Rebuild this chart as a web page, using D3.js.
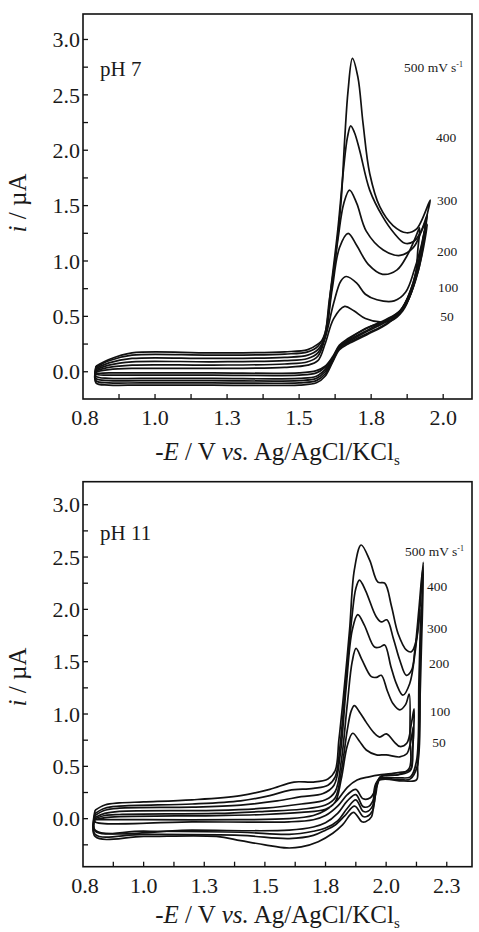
<html>
  <head>
    <title>CV pH 7 / pH 11</title>
    <script src="https://d3js.org/d3.v7.min.js"></script>
    <style>
      body { margin: 0; background: #fff; }
      text { font-family: "Liberation Serif", "DejaVu Serif", serif; fill: #1a1a1a; }
    </style>
  </head>
  <body>
    <svg width="479" height="932" id="chart"></svg>
  </body>

  <script type="text/javascript">
    // scan rates, mV/s, same order as the curve arrays below
    var scanRates = [50, 100, 200, 300, 400, 500];

    // pH 7, forward scans [E, i]
    var ph7Forward = [
      [[0.795,0.00],[0.84,0.02],[0.92,0.03],[1.2,0.03],[1.45,0.04],[1.53,0.06],[1.565,0.10],[1.59,0.25],[1.62,0.48],[1.658,0.59],[1.69,0.55],[1.73,0.48],[1.78,0.45],[1.82,0.46],[1.86,0.55],[1.89,0.72],[1.915,0.95],[1.935,1.20],[1.945,1.33]],
      [[0.795,0.01],[0.84,0.04],[0.92,0.06],[1.2,0.06],[1.45,0.07],[1.53,0.09],[1.565,0.14],[1.59,0.30],[1.62,0.62],[1.645,0.82],[1.664,0.86],[1.70,0.80],[1.73,0.70],[1.77,0.65],[1.83,0.64],[1.87,0.72],[1.90,0.92],[1.925,1.15],[1.935,1.27]],
      [[0.795,0.02],[0.84,0.06],[0.92,0.09],[1.2,0.09],[1.45,0.10],[1.53,0.12],[1.565,0.17],[1.59,0.32],[1.615,0.75],[1.64,1.12],[1.670,1.25],[1.70,1.14],[1.74,0.97],[1.79,0.88],[1.84,0.92],[1.875,1.05],[1.905,1.22],[1.918,1.30]],
      [[0.795,0.03],[0.84,0.08],[0.92,0.12],[1.2,0.12],[1.45,0.13],[1.53,0.15],[1.565,0.20],[1.59,0.32],[1.61,0.70],[1.635,1.20],[1.655,1.52],[1.675,1.64],[1.70,1.52],[1.733,1.27],[1.792,1.10],[1.85,1.05],[1.896,1.12],[1.925,1.27],[1.94,1.36]],
      [[0.795,0.04],[0.84,0.10],[0.92,0.15],[1.2,0.15],[1.45,0.16],[1.53,0.18],[1.565,0.23],[1.59,0.35],[1.61,0.75],[1.635,1.30],[1.655,1.85],[1.668,2.12],[1.679,2.22],[1.692,2.16],[1.71,2.00],[1.745,1.64],[1.79,1.40],[1.83,1.25],[1.867,1.16],[1.90,1.18],[1.925,1.28],[1.945,1.42]],
      [[0.795,0.05],[0.84,0.11],[0.92,0.17],[1.2,0.17],[1.45,0.18],[1.53,0.20],[1.565,0.25],[1.585,0.30],[1.605,0.65],[1.629,1.10],[1.646,1.55],[1.658,2.09],[1.670,2.54],[1.685,2.83],[1.704,2.66],[1.722,2.24],[1.745,1.79],[1.780,1.49],[1.826,1.32],[1.873,1.255],[1.908,1.29],[1.955,1.55]]
    ];

    // pH 7, reverse scans
    var ph7Reverse = [
      [[1.945,1.33],[1.93,1.10],[1.91,0.88],[1.88,0.68],[1.85,0.55],[1.80,0.47],[1.74,0.40],[1.67,0.30],[1.64,0.24],[1.615,0.13],[1.59,0.05],[1.56,0.01],[1.5,-0.01],[1.2,-0.01],[0.95,-0.01],[0.84,-0.01],[0.795,-0.01]],
      [[1.935,1.27],[1.925,1.05],[1.905,0.83],[1.875,0.63],[1.84,0.52],[1.79,0.45],[1.73,0.39],[1.67,0.29],[1.64,0.23],[1.615,0.12],[1.59,0.04],[1.56,-0.01],[1.5,-0.03],[1.2,-0.03],[0.95,-0.03],[0.84,-0.03],[0.795,-0.02]],
      [[1.918,1.30],[1.912,1.10],[1.905,0.90],[1.885,0.72],[1.85,0.55],[1.80,0.46],[1.74,0.38],[1.67,0.28],[1.64,0.22],[1.615,0.11],[1.59,0.02],[1.56,-0.04],[1.5,-0.06],[1.2,-0.06],[0.95,-0.06],[0.84,-0.06],[0.795,-0.04]],
      [[1.94,1.36],[1.93,1.20],[1.915,1.00],[1.89,0.76],[1.855,0.56],[1.80,0.45],[1.74,0.37],[1.67,0.27],[1.64,0.22],[1.615,0.10],[1.59,0.00],[1.56,-0.06],[1.5,-0.08],[1.2,-0.08],[0.95,-0.08],[0.84,-0.08],[0.795,-0.06]],
      [[1.945,1.42],[1.935,1.25],[1.92,1.05],[1.895,0.78],[1.86,0.57],[1.80,0.43],[1.74,0.35],[1.67,0.26],[1.64,0.21],[1.615,0.09],[1.59,-0.02],[1.56,-0.08],[1.5,-0.10],[1.2,-0.10],[0.95,-0.10],[0.84,-0.10],[0.795,-0.08]],
      [[1.955,1.55],[1.943,1.40],[1.925,1.10],[1.900,0.80],[1.865,0.58],[1.81,0.44],[1.74,0.34],[1.67,0.25],[1.64,0.20],[1.615,0.08],[1.59,-0.04],[1.56,-0.10],[1.5,-0.12],[1.2,-0.12],[0.95,-0.12],[0.84,-0.12],[0.795,-0.10]]
    ];

    // pH 11, forward scans
    var ph11Forward = [
      [[0.80,-0.01],[0.84,0.01],[0.9,0.02],[1.3,0.03],[1.5,0.04],[1.65,0.06],[1.75,0.09],[1.79,0.16],[1.815,0.38],[1.84,0.70],[1.862,0.816],[1.89,0.74],[1.918,0.656],[1.96,0.61],[2.0,0.61],[2.056,0.59],[2.085,0.62],[2.10,0.72],[2.112,0.88]],
      [[0.80,0.00],[0.84,0.03],[0.9,0.04],[1.3,0.05],[1.5,0.07],[1.65,0.09],[1.75,0.13],[1.79,0.20],[1.815,0.45],[1.84,0.85],[1.856,1.03],[1.869,1.08],[1.89,1.02],[1.918,0.92],[1.95,0.82],[1.973,0.78],[2.001,0.81],[2.035,0.73],[2.056,0.69],[2.085,0.72],[2.105,0.92],[2.115,1.05]],
      [[0.80,0.01],[0.84,0.05],[0.9,0.07],[1.3,0.08],[1.5,0.10],[1.65,0.14],[1.75,0.18],[1.79,0.26],[1.815,0.55],[1.84,1.10],[1.86,1.50],[1.876,1.628],[1.90,1.52],[1.939,1.357],[1.96,1.35],[1.98,1.37],[2.005,1.22],[2.028,1.10],[2.056,1.04],[2.08,1.09],[2.095,1.19]],
      [[0.80,0.03],[0.84,0.08],[0.9,0.10],[1.2,0.11],[1.4,0.13],[1.55,0.17],[1.65,0.21],[1.74,0.24],[1.785,0.32],[1.81,0.60],[1.835,1.25],[1.86,1.80],[1.883,1.95],[1.91,1.85],[1.952,1.64],[1.975,1.64],[1.994,1.66],[2.02,1.45],[2.042,1.29],[2.069,1.18],[2.097,1.29],[2.12,1.60],[2.14,2.00]],
      [[0.80,0.05],[0.84,0.10],[0.9,0.12],[1.2,0.14],[1.4,0.17],[1.52,0.22],[1.6,0.27],[1.7,0.29],[1.76,0.32],[1.79,0.40],[1.81,0.70],[1.835,1.35],[1.86,1.95],[1.875,2.20],[1.890,2.28],[1.915,2.18],[1.959,1.93],[1.98,1.88],[2.003,1.90],[2.03,1.72],[2.056,1.516],[2.083,1.37],[2.105,1.42],[2.118,1.60],[2.135,2.00],[2.15,2.38]],
      [[0.80,0.08],[0.84,0.13],[0.9,0.15],[1.0,0.16],[1.2,0.18],[1.4,0.22],[1.52,0.28],[1.62,0.35],[1.70,0.35],[1.76,0.38],[1.79,0.46],[1.805,0.75],[1.821,1.10],[1.849,1.80],[1.869,2.38],[1.897,2.615],[1.932,2.47],[1.966,2.26],[1.994,2.25],[2.022,2.03],[2.049,1.77],[2.084,1.61],[2.104,1.595],[2.125,1.71],[2.153,2.45]]
    ];

    // pH 11, reverse scans
    var ph11Reverse = [
      [[2.112,0.88],[2.108,0.62],[2.10,0.47],[2.05,0.44],[1.98,0.42],[1.93,0.40],[1.88,0.37],[1.84,0.30],[1.80,0.18],[1.75,0.08],[1.70,0.03],[1.6,0.00],[1.4,-0.01],[1.0,-0.01],[0.80,-0.01]],
      [[2.115,1.05],[2.11,0.70],[2.10,0.46],[2.05,0.42],[1.98,0.40],[1.96,0.30],[1.935,0.20],[1.905,0.19],[1.875,0.28],[1.84,0.23],[1.80,0.12],[1.75,0.03],[1.70,-0.01],[1.6,-0.03],[1.2,-0.03],[0.80,-0.03]],
      [[2.095,1.19],[2.098,0.80],[2.095,0.48],[2.05,0.42],[1.975,0.40],[1.955,0.22],[1.93,0.12],[1.905,0.115],[1.875,0.23],[1.84,0.17],[1.80,0.05],[1.75,-0.04],[1.70,-0.08],[1.6,-0.11],[1.2,-0.11],[0.80,-0.11]],
      [[2.14,2.00],[2.135,1.30],[2.125,0.55],[2.10,0.40],[2.05,0.39],[1.97,0.38],[1.95,0.15],[1.925,0.07],[1.905,0.07],[1.875,0.18],[1.84,0.10],[1.80,-0.02],[1.75,-0.09],[1.70,-0.12],[1.6,-0.15],[1.4,-0.13],[1.0,-0.12],[0.80,-0.12]],
      [[2.15,2.38],[2.14,1.50],[2.128,0.50],[2.10,0.38],[2.06,0.37],[1.97,0.37],[1.945,0.08],[1.92,0.02],[1.905,0.02],[1.87,0.12],[1.83,0.03],[1.79,-0.06],[1.75,-0.11],[1.70,-0.16],[1.6,-0.19],[1.4,-0.16],[1.0,-0.15],[0.80,-0.15]],
      [[2.153,2.45],[2.145,1.60],[2.13,0.50],[2.125,0.37],[2.07,0.36],[1.965,0.36],[1.94,0.02],[1.915,-0.03],[1.90,-0.03],[1.865,0.06],[1.82,-0.06],[1.78,-0.14],[1.72,-0.22],[1.65,-0.27],[1.59,-0.28],[1.5,-0.25],[1.4,-0.21],[1.3,-0.17],[1.0,-0.17],[0.80,-0.17]]
    ];

    // tick values and the labels printed under them
    var ph7XTicks = [0.75, 1.0, 1.25, 1.5, 1.75, 2.0];
    var ph7XLabels = ["0.8", "1.0", "1.3", "1.5", "1.8", "2.0"];
    var ph11XTicks = [0.75, 1.0, 1.25, 1.5, 1.75, 2.0, 2.25];
    var ph11XLabels = ["0.8", "1.0", "1.3", "1.5", "1.8", "2.0", "2.3"];
    var yTicks = [0, 0.5, 1.0, 1.5, 2.0, 2.5, 3.0];
    var yLabels = ["0.0", "0.5", "1.0", "1.5", "2.0", "2.5", "3.0"];

    var svg = d3.select("#chart");

    function drawPanel(p) {
      var x = d3.scaleLinear().domain(p.xDomain).range([p.left, p.right]);
      var y = d3.scaleLinear().domain(p.yDomain).range([p.bottom, p.top]);
      var g = svg.append("g");

      var line = d3.line()
        .x(function(d){ return x(d[0]); })
        .y(function(d){ return y(d[1]); })
        .curve(d3.curveCatmullRom.alpha(0.5));

      scanRates.forEach(function(r, k) {
        var pts = p.forward[k].concat(p.reverse[k].slice(1));
        pts.push(p.forward[k][0]);
        g.append("path")
          .attr("d", line(pts))
          .attr("fill", "none")
          .attr("stroke", "#111")
          .attr("stroke-width", 1.7)
          .attr("stroke-linejoin", "round");
      });

      // frame
      g.append("rect")
        .attr("x", p.left).attr("y", p.top)
        .attr("width", p.right - p.left).attr("height", p.bottom - p.top)
        .attr("fill", "none").attr("stroke", "#111").attr("stroke-width", 1.6);

      // inward ticks, bottom and left
      var xt = d3.range(p.xTicks[0] + 0.125, p.xDomain[1], 0.125);
      g.selectAll(".xt").data(xt).enter().append("line")
        .attr("x1", function(d){ return x(d); }).attr("x2", function(d){ return x(d); })
        .attr("y1", p.bottom).attr("y2", p.bottom - 5)
        .attr("stroke", "#111").attr("stroke-width", 1.3);
      var yt = d3.range(p.yTickStart, 3.01, 0.25);
      g.selectAll(".yt").data(yt).enter().append("line")
        .attr("x1", p.left).attr("x2", p.left + 5)
        .attr("y1", function(d){ return y(d); }).attr("y2", function(d){ return y(d); })
        .attr("stroke", "#111").attr("stroke-width", 1.3);

      g.selectAll(".xl").data(p.xTicks).enter().append("text")
        .attr("x", function(d){ return x(d) + (d === p.xTicks[0] ? 2 : 0); })
        .attr("y", p.bottom + 26)
        .attr("text-anchor", "middle")
        .attr("font-size", 22)
        .text(function(d, i){ return p.xLabels[i]; });

      g.selectAll(".yl").data(yTicks).enter().append("text")
        .attr("x", p.left - 3)
        .attr("y", function(d){ return y(d); })
        .attr("dy", "0.35em")
        .attr("text-anchor", "end")
        .attr("font-size", 22)
        .text(function(d, i){ return yLabels[i]; });

      // axis titles
      var xt1 = g.append("text")
        .attr("x", (p.left + p.right) / 2).attr("y", p.titleY)
        .attr("text-anchor", "middle").attr("font-size", 25);
      xt1.append("tspan").text("-");
      xt1.append("tspan").attr("font-style", "italic").text("E");
      xt1.append("tspan").text(" / V ");
      xt1.append("tspan").attr("font-style", "italic").text("vs.");
      xt1.append("tspan").text(" Ag/AgCl/KCl");
      xt1.append("tspan").attr("font-size", 15).attr("dy", 5).text("s");

      var yt1 = g.append("text")
        .attr("transform", "translate(26," + p.yTitleY + ") rotate(-90)")
        .attr("text-anchor", "middle").attr("font-size", 25);
      yt1.append("tspan").attr("font-style", "italic").text("i");
      yt1.append("tspan").text(" / \u00b5A");

      g.append("text")
        .attr("x", p.left + 17).attr("y", p.top + p.phDy)
        .attr("font-size", 21)
        .text(p.phLabel);

      // scan rate annotations
      p.rateLabels.forEach(function(a, k) {
        var t = g.append("text")
          .attr("x", a[0]).attr("y", a[1])
          .attr("text-anchor", k === scanRates.length - 1 ? "start" : "middle")
          .attr("font-size", 13.5);
        if (k === scanRates.length - 1) {
          t.append("tspan").text(scanRates[k] + " mV s");
          t.append("tspan").attr("font-size", 8).attr("dy", -5).text("-1");
        } else {
          t.text(scanRates[k]);
        }
      });
    }

    drawPanel({
      left: 83, right: 472, top: 14, bottom: 399,
      xDomain: [0.75, 2.1], yDomain: [-0.246, 3.23],
      xTicks: ph7XTicks, xLabels: ph7XLabels, yTickStart: 0,
      forward: ph7Forward, reverse: ph7Reverse,
      titleY: 460, yTitleY: 203, phLabel: "pH 7", phDy: 62,
      rateLabels: [[447, 321], [448, 292], [447, 256], [447, 205], [446, 142], [404, 72]]
    });

    drawPanel({
      left: 83, right: 472, top: 481.7, bottom: 866.7,
      xDomain: [0.75, 2.354], yDomain: [-0.459, 3.22],
      xTicks: ph11XTicks, xLabels: ph11XLabels, yTickStart: -0.25,
      forward: ph11Forward, reverse: ph11Reverse,
      titleY: 923, yTitleY: 677, phLabel: "pH 11", phDy: 58,
      rateLabels: [[439, 747], [440, 716], [439, 668], [437, 633], [437, 591], [405, 556]]
    });
  </script>
</html>
